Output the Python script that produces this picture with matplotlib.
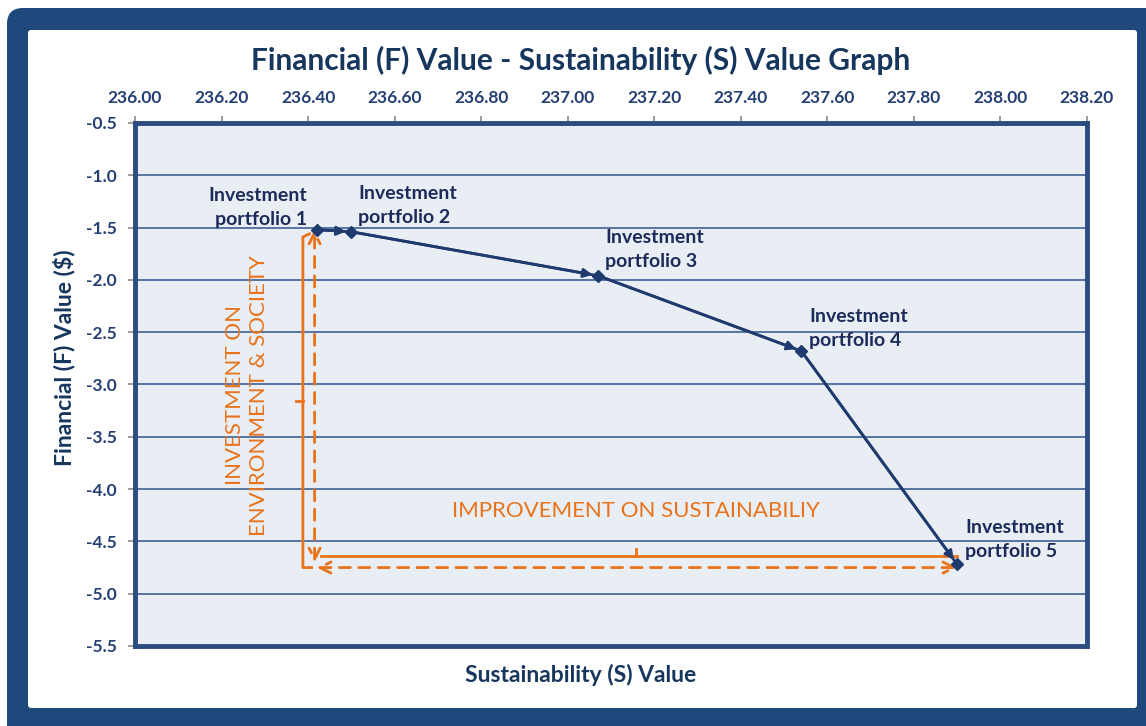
import matplotlib
matplotlib.use("Agg")
import matplotlib.pyplot as plt
from matplotlib.patches import FancyBboxPatch
from matplotlib.transforms import IdentityTransform

# data
portfolios = ["Investment\nportfolio 1", "Investment\nportfolio 2", "Investment\nportfolio 3",
              "Investment\nportfolio 4", "Investment\nportfolio 5"]
s_value = [236.42, 236.50, 237.07, 237.54, 237.90]
f_value = [-1.52, -1.54, -1.96, -2.68, -4.72]
x_ticks = [236.00, 236.20, 236.40, 236.60, 236.80, 237.00, 237.20, 237.40, 237.60, 237.80, 238.00, 238.20]
y_ticks = [-0.5, -1.0, -1.5, -2.0, -2.5, -3.0, -3.5, -4.0, -4.5, -5.0, -5.5]

navy = '#1F3A6E'
dark_navy = '#1C2B5A'
orange = '#E8731A'

plt.rcParams['font.family'] = ['Lato', 'DejaVu Sans']

fig = plt.figure(figsize=(11.46, 7.26), dpi=100)

# dark frame with white panel
frame = FancyBboxPatch((7, -40), 1180, 758, boxstyle="round,pad=0,rounding_size=16",
                       facecolor='#1F497D', edgecolor='none', transform=IdentityTransform(), zorder=-3)
panel = FancyBboxPatch((28, 18), 1109, 678, boxstyle="round,pad=0,rounding_size=3",
                       facecolor='white', edgecolor='none', transform=IdentityTransform(), zorder=-2)
fig.patches.extend([frame, panel])

ax = fig.add_axes([135 / 1146, 1 - 646 / 726, 952 / 1146, 523 / 726])
ax.set_facecolor('#E9EDF4')
ax.set_xlim(236.0, 238.2)
ax.set_ylim(-5.5, -0.5)

ax.set_xticks(x_ticks)
ax.set_xticklabels([f"{v:.2f}" for v in x_ticks])
ax.set_yticks(y_ticks)
ax.set_yticklabels([f"{v:.1f}" for v in y_ticks])
ax.xaxis.tick_top()
ax.tick_params(axis='both', colors='#8C8C8C', labelcolor='#243F73', labelsize=12.5, length=5, width=1.2)
for lbl in ax.get_xticklabels() + ax.get_yticklabels():
    lbl.set_fontweight('bold')
ax.tick_params(axis='x', pad=7)
ax.tick_params(axis='y', pad=8)

ax.grid(True, axis='y', color='#5673A3', linewidth=1.4)
ax.set_axisbelow(True)
for sp in ax.spines.values():
    sp.set_color('#2B4C7E')
    sp.set_linewidth(3.5)

fig.text(581 / 1146, 1 - 60 / 726, "Financial (F) Value - Sustainability (S) Value Graph", fontsize=21.5,
         fontweight='bold', color='#17365D', ha='center', va='center')
ax.set_ylabel("Financial (F) Value ($)", fontsize=16.5, fontweight='bold', color='#17365D')
ax.set_xlabel("Sustainability (S) Value", fontsize=16.5, fontweight='bold', color='#17365D')
ax.yaxis.set_label_coords((64 - 135) / 952, (646 - 358) / 523)
ax.xaxis.set_label_coords((581 - 135) / 952, (646 - 675) / 523)
ax.yaxis.label.set_va('center')
ax.xaxis.label.set_va('center')

# portfolio line with arrowheads into each point
ax.plot(s_value, f_value, color=navy, linewidth=2, marker='D', markersize=6, zorder=4)
for i in range(len(s_value) - 1):
    ax.annotate("", xy=(s_value[i + 1], f_value[i + 1]), xytext=(s_value[i], f_value[i]),
                arrowprops=dict(arrowstyle='-|>', color=navy, lw=2, mutation_scale=13,
                                shrinkA=0, shrinkB=4), zorder=4)

label_offsets = [(-10, 2, 'right'), (7, 6, 'left'), (7, 6, 'left'), (8, 2, 'left'), (8, 4, 'left')]
for name, sx, fy, (dx, dy, ha) in zip(portfolios, s_value, f_value, label_offsets):
    ax.annotate(name, xy=(sx, fy), xytext=(dx, dy), textcoords='offset pixels',
                ha=ha, va='bottom', fontsize=14, fontweight='bold', color=dark_navy,
                linespacing=1.5, zorder=5)

# orange annotation: dashed double arrows
x_left = s_value[0] - 0.005
y_low = f_value[-1] - 0.03
ax.annotate("", xy=(x_left, f_value[0]), xytext=(x_left, y_low + 0.05),
            arrowprops=dict(arrowstyle='<->', color=orange, lw=2, linestyle=(0, (4, 3)),
                            mutation_scale=20, shrinkA=0, shrinkB=0), zorder=3)
ax.annotate("", xy=(s_value[-1], y_low), xytext=(x_left + 0.005, y_low),
            arrowprops=dict(arrowstyle='<->', color=orange, lw=2, linestyle=(0, (4, 3)),
                            mutation_scale=20, shrinkA=0, shrinkB=0), zorder=3)

# orange annotation: solid brace lines
xs = s_value[0] - 0.032
ax.plot([xs + 0.015, xs, xs, xs + 0.02], [f_value[0] - 0.04, f_value[0] - 0.07, y_low - 0.0, y_low],
        color=orange, linewidth=2, zorder=3)
ax.plot([xs - 0.016, xs], [(f_value[0] + y_low) / 2 - 0.02] * 2, color=orange, linewidth=2, zorder=3)
yb = f_value[-1] + 0.08
ax.plot([x_left + 0.015, s_value[-1]], [yb, yb], color=orange, linewidth=2, zorder=3)
ax.plot([(x_left + s_value[-1]) / 2] * 2, [yb, yb + 0.07], color=orange, linewidth=2, zorder=3)

ax.text((x_left + s_value[-1]) / 2, yb + 0.43, "IMPROVEMENT ON SUSTAINABILIY", ha='center', va='center',
        fontsize=16, color=orange)
ax.text(xs - 0.13, (f_value[0] + y_low) / 2 + 0.03, "INVESTMENT ON\nENVIRONMENT & SOCIETY", rotation=90,
        ha='center', va='center', fontsize=16, color=orange, linespacing=1.25, multialignment='center')

fig.savefig("out.png", dpi=100)
